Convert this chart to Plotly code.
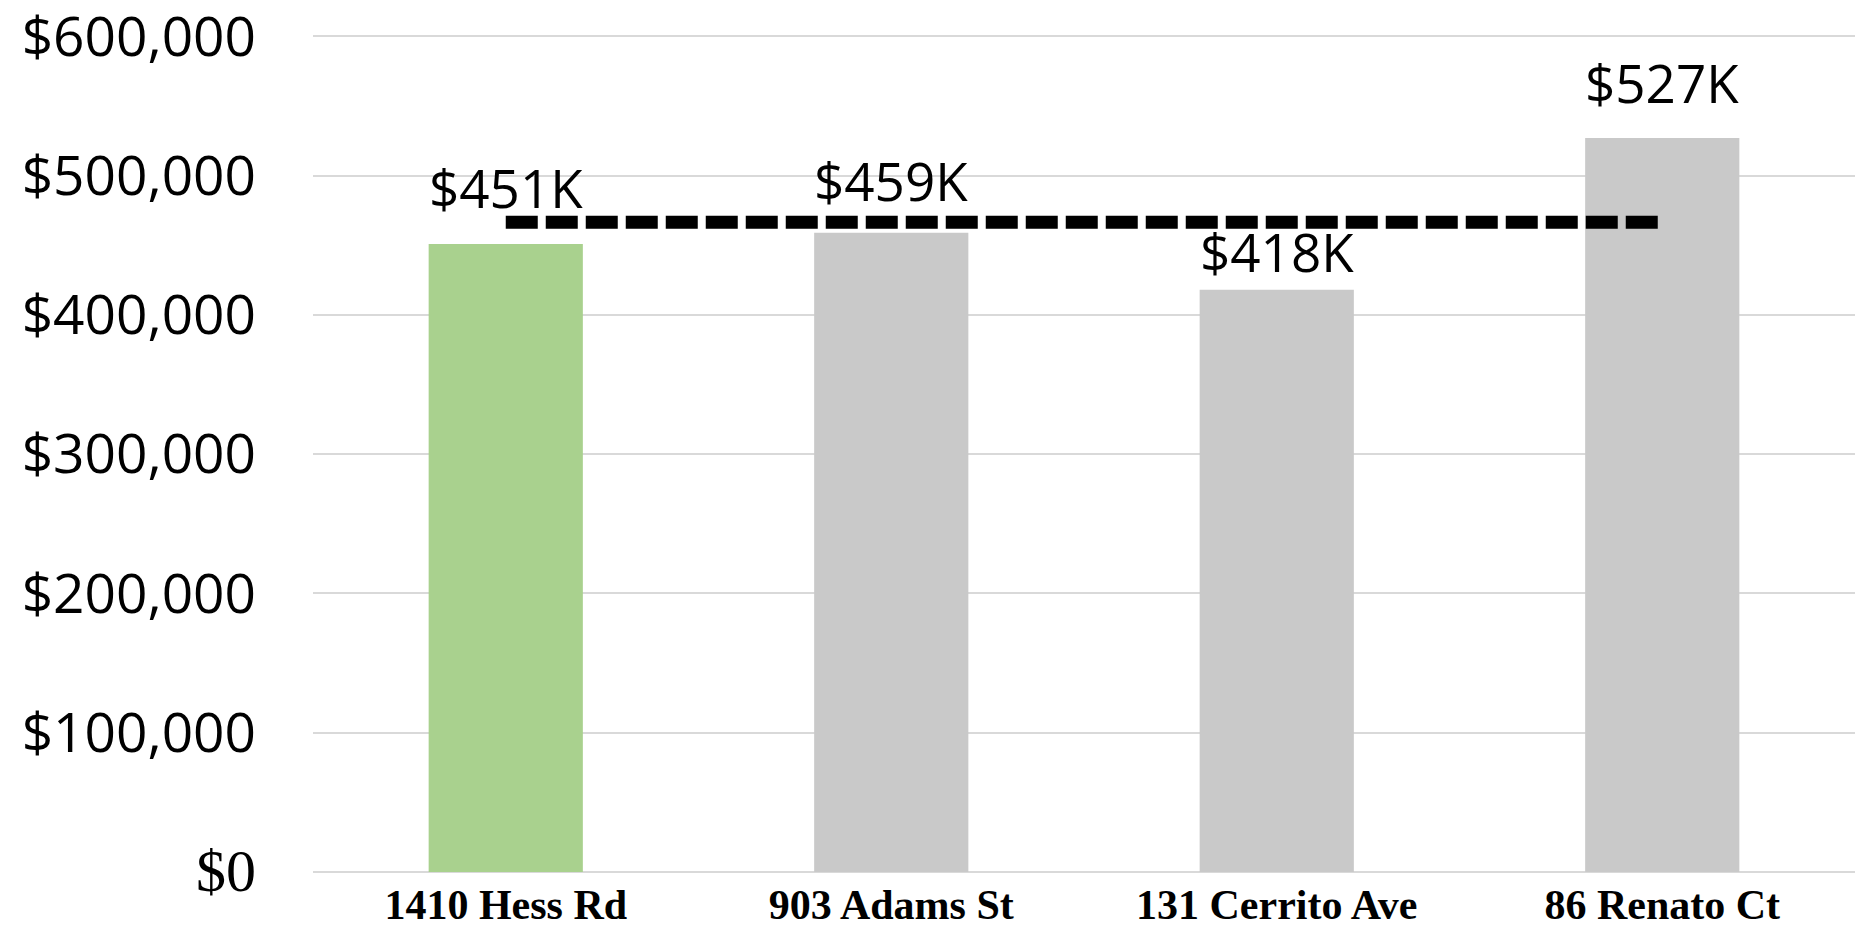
import plotly.graph_objects as go

# Sale prices of the subject property and nearby comparables
addresses = ["1410 Hess Rd", "903 Adams St", "131 Cerrito Ave", "86 Renato Ct"]
prices = [451000, 459000, 418000, 527000]
price_labels = ["$451K", "$459K", "$418K", "$527K"]
bar_colors = ["#A9D18E", "#C9C9C9", "#C9C9C9", "#C9C9C9"]

# Average comparable price shown as a dashed reference line
average_price = 466500
average_line = [average_price, average_price, average_price, average_price]

# Y axis ticks
tick_values = [0, 100000, 200000, 300000, 400000, 500000, 600000]
tick_labels = [
    '<span style="font-family:Liberation Serif;font-size:60px">$0</span>',
    "$100,000", "$200,000", "$300,000", "$400,000", "$500,000", "$600,000",
]

# Vertical pixel offsets of the value labels above their bars
label_shifts = [18, 14, 0, 17]

SANS = "Open Sans"
SERIF = "Liberation Serif"

fig = go.Figure()

fig.add_trace(go.Bar(
    x=addresses,
    y=prices,
    marker=dict(color=bar_colors, line=dict(width=0)),
    hoverinfo="skip",
))

fig.add_trace(go.Scatter(
    x=addresses,
    y=average_line,
    mode="lines",
    line=dict(color="black", width=13, dash="32px,8px"),
    hoverinfo="skip",
))

for addr, price, label, shift in zip(addresses, prices, price_labels, label_shifts):
    fig.add_annotation(
        x=addr, y=price, text=label,
        showarrow=False, yanchor="bottom", yshift=shift,
        font=dict(family=SANS, size=53, color="black"),
    )

fig.update_layout(
    width=1864,
    height=944,
    margin=dict(l=313, r=9, t=35, b=72, autoexpand=False),
    paper_bgcolor="white",
    plot_bgcolor="white",
    showlegend=False,
    bargap=0.6,
)

fig.update_xaxes(
    automargin=False,
    showgrid=False,
    showline=False,
    ticks="",
    tickfont=dict(family=SERIF, size=42, color="black", weight="bold"),
    ticklabelstandoff=4,
)

fig.update_yaxes(
    automargin=False,
    range=[0, 601000],
    tickvals=tick_values,
    ticktext=tick_labels,
    showgrid=True,
    gridcolor="#D9D9D9",
    gridwidth=2,
    zeroline=True,
    zerolinecolor="#D9D9D9",
    zerolinewidth=2,
    showline=False,
    ticks="",
    tickfont=dict(family=SANS, size=55, color="black"),
    ticklabelstandoff=56,
    ticklabeloverflow="allow",
)

fig.write_html("out.html")
